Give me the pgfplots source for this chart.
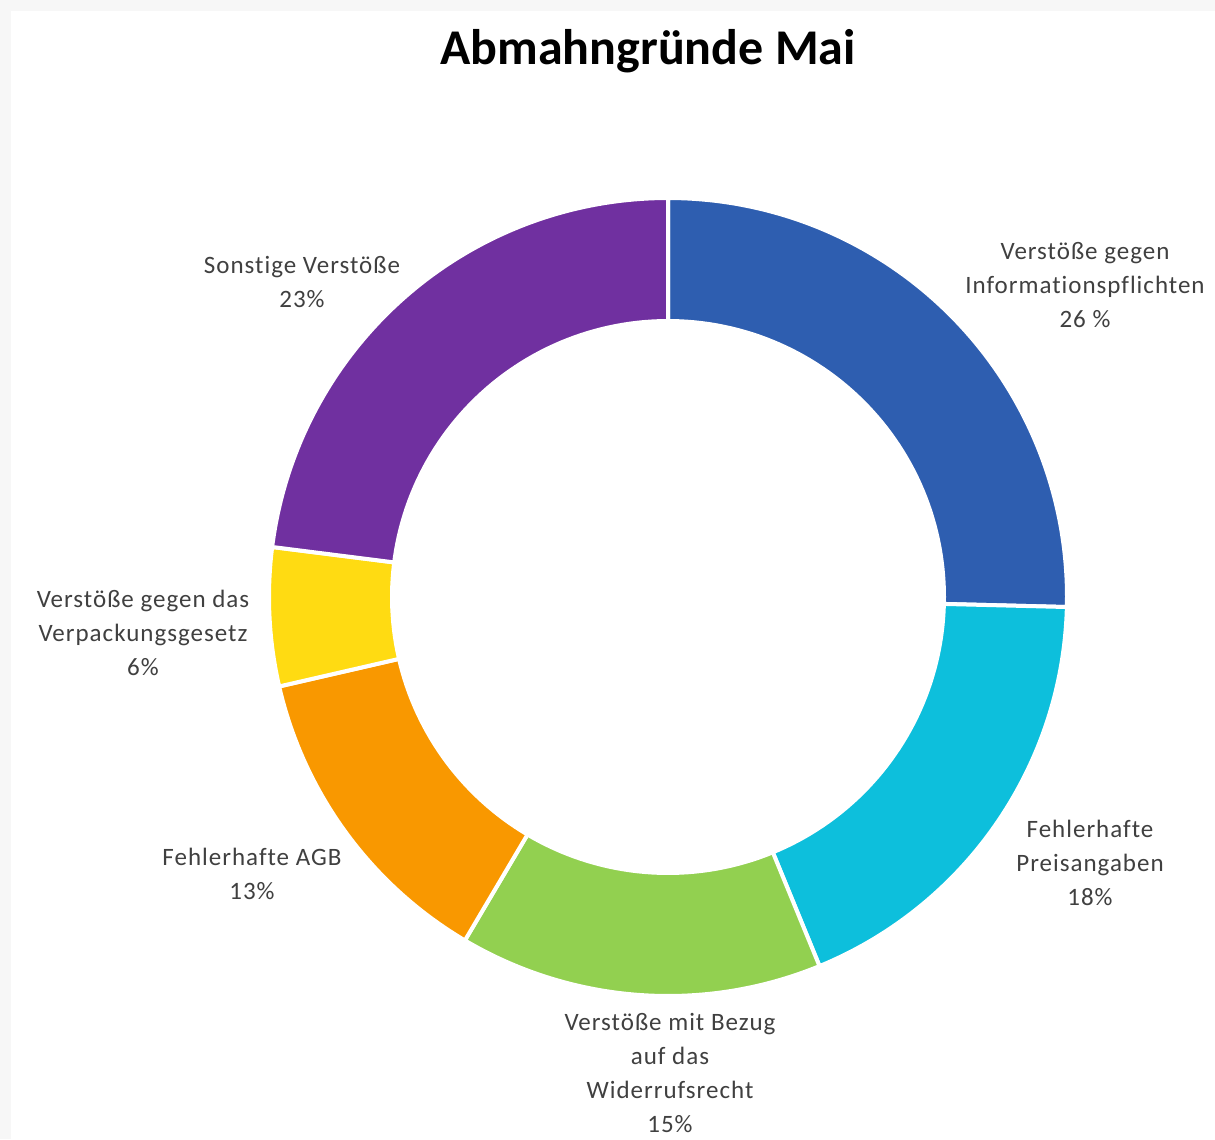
\documentclass[border=0pt]{standalone}
\usepackage{fontspec}
\setmainfont{Carlito}
\newfontfamily\labelfont[LetterSpace=4, Ligatures={NoCommon}]{Carlito}
\usepackage{pgfplots}
\pgfplotsset{compat=1.18}
\usepackage{pgfplotstable}
\definecolor{cBlue}{HTML}{2E5EB0}
\definecolor{cCyan}{HTML}{0DBFDC}
\definecolor{cGreen}{HTML}{92D050}
\definecolor{cOrange}{HTML}{F99800}
\definecolor{cYellow}{HTML}{FFDB12}
\definecolor{cPurple}{HTML}{7030A0}
\definecolor{cText}{HTML}{404040}
\definecolor{cFrame}{HTML}{F7F7F7}
\pgfplotstableread{
share color
25.4 cBlue
18.4 cCyan
14.7 cGreen
12.9 cOrange
5.6 cYellow
23.0 cPurple
}\shares
\begin{document}
\begin{tikzpicture}
\begin{axis}[
  at={(0,0)}, anchor=south west,
  width=607.5pt, height=569.5pt, scale only axis,
  xmin=0, xmax=1215, ymin=0, ymax=1139,
  hide axis, clip=false,
  every axis plot/.append style={mark=none},
]
% background frame
\addplot[fill=cFrame, draw=none] coordinates {(0,0) (1215,0) (1215,1139) (0,1139)} -- cycle;
\addplot[fill=white, draw=none] coordinates {(11,0) (1215,0) (1215,1128) (11,1128)} -- cycle;
% donut wedges
\def\angA{90}
\pgfplotsforeachungrouped \i in {0,...,5}{%
  \pgfplotstablegetelem{\i}{share}\of\shares
  \let\v\pgfplotsretval
  \pgfplotstablegetelem{\i}{color}\of\shares
  \let\col\pgfplotsretval
  \pgfmathsetmacro\angB{\angA-3.6*\v}%
  \edef\cmd{\noexpand\addplot[fill=\col, draw=white, line width=2pt, line join=round, domain=\angB:\angA, samples=120]
    ({668+399*cos(x)},{542+399*sin(x)}) -- (axis cs:668,542) -- cycle;}%
  \cmd
  \global\let\angA\angB
}
% inner hole
\addplot[fill=white, draw=none, domain=0:360, samples=240] ({668+278*cos(x)},{542+278*sin(x)});
% title
\node[font=\fontsize{25pt}{30pt}\selectfont\bfseries, text=black] at (axis cs:648,1088) {Abmahngründe Mai};
% labels
\begin{scope}[every node/.style={align=center, text=cText, font=\labelfont\fontsize{12.5pt}{17pt}\selectfont}]
\node at (axis cs:1085,854) {Verstöße gegen\\Informationspflichten\\26 \%};
\node at (axis cs:1090,276) {Fehlerhafte\\Preisangaben\\18\%};
\node at (axis cs:670,66) {Verstöße mit Bezug\\auf das\\Widerrufsrecht\\15\%};
\node at (axis cs:252,265) {Fehlerhafte AGB\\13\%};
\node at (axis cs:143,506) {Verstöße gegen das\\Verpackungsgesetz\\6\%};
\node at (axis cs:302,857) {Sonstige Verstöße\\23\%};
\end{scope}
\end{axis}
\end{tikzpicture}
\end{document}
